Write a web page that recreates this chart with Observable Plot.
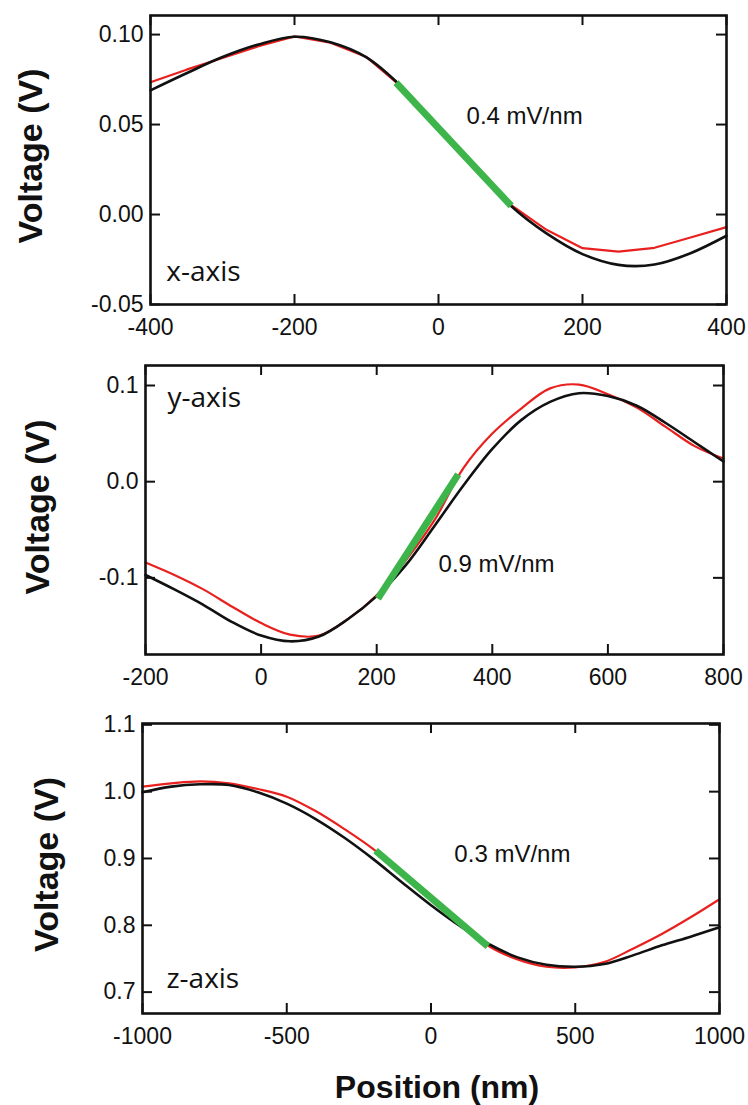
<!DOCTYPE html>
<html><head><meta charset="utf-8">
<script src="https://cdn.jsdelivr.net/npm/d3@7"></script>
<script src="https://cdn.jsdelivr.net/npm/@observablehq/plot@0.6"></script>
<style>
body{margin:0;background:#fff;}
#chart svg{display:block;}
</style></head><body><div id="chart"></div>
<script>
// ---- data ----
const pos1 = [-400,-350,-300,-250,-200,-150,-100,-50,0,50,100,150,200,250,300,350,400];
const black1 = [0.069,0.0785,0.0875,0.0945,0.0988,0.0957,0.0873,0.0705,0.048,0.026,0.005,-0.0105,-0.022,-0.028,-0.0278,-0.0215,-0.0118];
const red1 = [0.0735,0.0805,0.087,0.0935,0.099,0.0955,0.0875,0.0705,0.048,0.026,0.0055,-0.0085,-0.0187,-0.0206,-0.0185,-0.0128,-0.007];
const fitX1 = [-59, 101];
const fitY1 = [0.0733, 0.0048];

const pos2 = [-200,-150,-100,-50,0,50,100,150,200,250,300,350,400,450,500,550,600,650,700,750,800];
const black2 = [-0.097,-0.112,-0.128,-0.146,-0.160,-0.166,-0.161,-0.143,-0.119,-0.087,-0.046,-0.004,0.034,0.064,0.083,0.092,0.089,0.079,0.061,0.041,0.021];
const red2 = [-0.084,-0.097,-0.112,-0.130,-0.147,-0.159,-0.160,-0.143,-0.118,-0.082,-0.040,0.014,0.050,0.076,0.097,0.101,0.091,0.077,0.057,0.037,0.024];
const fitX2 = [202, 341];
const fitY2 = [-0.1215, 0.0076];

const pos3 = [-1000,-900,-800,-700,-600,-500,-400,-300,-200,-100,0,100,200,300,400,500,600,700,800,900,1000];
const black3 = [0.999,1.0075,1.011,1.010,0.999,0.982,0.959,0.931,0.899,0.864,0.830,0.799,0.772,0.752,0.741,0.738,0.742,0.755,0.770,0.783,0.797];
const red3 = [1.0075,1.0125,1.0155,1.0125,1.004,0.9925,0.971,0.944,0.914,0.877,0.839,0.804,0.769,0.749,0.738,0.737,0.745,0.765,0.787,0.812,0.839];
const fitX3 = [-192, 197];
const fitY3 = [0.9117, 0.7686];

const xTicks1 = [-400,-200,0,200,400];
const yTicks1 = [-0.05,0,0.05,0.10];
const xTicks2 = [-200,0,200,400,600,800];
const yTicks2 = [-0.1,0,0.1];
const xTicks3 = [-1000,-500,0,500,1000];
const yTicks3 = [0.7,0.8,0.9,1.0,1.1];

const slopeLabels = ["0.4 mV/nm","0.9 mV/nm","0.3 mV/nm"];
const axisNames = ["x-axis","y-axis","z-axis"];
const yTitle = "Voltage (V)";
const xTitle = "Position (nm)";

// ---- drawing ----
const FONT = "'Liberation Sans', Arial, Helvetica, sans-serif";
const root = document.getElementById("chart");

function panel(c) {
  const W = 748;
  const innerH = c.height - c.mt - c.mb;
  const innerW = W - c.ml - c.mr;
  const curve = c.xs.map((x, i) => ({x, black: c.black[i], red: c.red[i]}));
  const fit = c.fx.map((x, i) => ({x, y: c.fy[i]}));
  const tk = 10;
  const marks = [
    Plot.line(curve, {x: "x", y: "red", stroke: "#e8211f", strokeWidth: 2.2, curve: c.redCurve}),
    Plot.line(curve, {x: "x", y: "black", stroke: "#111", strokeWidth: 2.6, curve: "catmull-rom"}),
    Plot.line(fit, {x: "x", y: "y", stroke: "#3db54a", strokeWidth: 7, strokeLinecap: "butt"}),
    Plot.ruleX(c.xTicks, {x: d => d, insetTop: innerH - tk, stroke: "#111", strokeWidth: 2}),
    Plot.ruleX(c.xTicks, {x: d => d, insetBottom: innerH - tk, stroke: "#111", strokeWidth: 2}),
    Plot.ruleY(c.yTicks, {y: d => d, insetRight: innerW - tk, stroke: "#111", strokeWidth: 2}),
    Plot.ruleY(c.yTicks, {y: d => d, insetLeft: innerW - tk, stroke: "#111", strokeWidth: 2}),
    Plot.frame({stroke: "#111", strokeWidth: 2.6}),
    Plot.text([c.slope], {x: () => c.noteX, y: () => c.noteY, text: d => d, textAnchor: "start", lineAnchor: "middle", fontSize: 24, fontFamily: FONT, fill: "#111"}),
    Plot.text([c.name], {x: () => c.nameX, y: () => c.nameY, text: d => d, textAnchor: "start", lineAnchor: "middle", fontSize: 28, fontFamily: "'Open Sans', 'Noto Sans', sans-serif", fill: "#111"}),
    Plot.text([yTitle], {frameAnchor: "left", textAnchor: "middle", lineAnchor: "middle", rotate: -90, dx: c.vdx, dy: c.vdy, text: d => d, fontSize: 34, fontWeight: "bold", fontFamily: FONT, fill: "#111"})
  ];
  if (c.xTitle) marks.push(Plot.text([c.xTitle], {frameAnchor: "bottom", textAnchor: "middle", lineAnchor: "middle", dy: 74, dx: 6, text: d => d, fontSize: 32, fontWeight: "bold", fontFamily: FONT, fill: "#111"}));
  return Plot.plot({
    width: W, height: c.height,
    marginTop: c.mt, marginBottom: c.mb, marginLeft: c.ml, marginRight: c.mr,
    style: {fontFamily: FONT, fontSize: "23px", color: "#111", background: "#fff", overflow: "visible"},
    x: {domain: c.xDomain, ticks: c.xTicks, tickSize: 0, tickPadding: 14, tickFormat: d => String(d), label: null},
    y: {domain: c.yDomain, ticks: c.yTicks, tickSize: 0, tickPadding: 7, tickFormat: d => d.toFixed(c.dec), label: null},
    marks
  });
}

root.append(panel({
  xs: pos1, black: black1, red: red1, fx: fitX1, fy: fitY1, redCurve: "linear",
  xDomain: [-400, 400], yDomain: [-0.05, 0.1106], xTicks: xTicks1, yTicks: yTicks1, dec: 2,
  slope: slopeLabels[0], noteX: 39, noteY: 0.0544,
  name: axisNames[0], nameX: -378, nameY: -0.0317,
  height: 345, mt: 15, mb: 41, ml: 150, mr: 22, vdx: -119, vdy: -4
}));
root.append(panel({
  xs: pos2, black: black2, red: red2, fx: fitX2, fy: fitY2, redCurve: "catmull-rom",
  xDomain: [-200, 800], yDomain: [-0.1797, 0.1208], xTicks: xTicks2, yTicks: yTicks2, dec: 1,
  slope: slopeLabels[1], noteX: 307, noteY: -0.0855,
  name: axisNames[1], nameX: -162, nameY: 0.087,
  height: 345, mt: 20, mb: 36, ml: 145, mr: 25, vdx: -107, vdy: -3
}));
root.append(panel({
  xs: pos3, black: black3, red: red3, fx: fitX3, fy: fitY3, redCurve: "catmull-rom",
  xDomain: [-1000, 1000], yDomain: [0.668, 1.102], xTicks: xTicks3, yTicks: yTicks3, dec: 1,
  slope: slopeLabels[2], noteX: 81, noteY: 0.9057,
  name: axisNames[2], nameX: -917, nameY: 0.72,
  height: 415, mt: 33, mb: 92, ml: 142, mr: 29, vdx: -95, vdy: -4,
  xTitle: xTitle
}));
</script>
</body></html>
